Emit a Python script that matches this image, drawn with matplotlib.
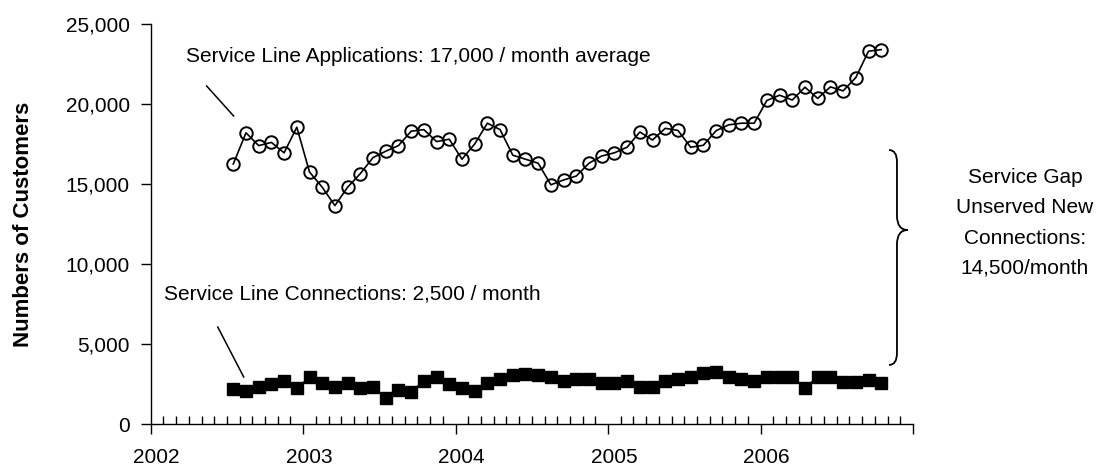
import numpy as np
import matplotlib
matplotlib.use("Agg")
import matplotlib.pyplot as plt
from matplotlib.path import Path
from matplotlib.patches import PathPatch
from matplotlib.ticker import MultipleLocator, StrMethodFormatter
import matplotlib.transforms as mtransforms

plt.rcParams["font.family"] = ["Liberation Sans", "DejaVu Sans"]

# monthly series, July 2002 .. October 2006 (plotted at mid-month)
START_YEAR, START_MONTH = 2002, 7
applications = [16250, 18200, 17400, 17600, 16950, 18550, 15750, 14800, 13650, 14800,
                15650, 16650, 17050, 17400, 18300, 18400, 17650, 17800, 16550, 17500,
                18800, 18400, 16800, 16550, 16300, 14950, 15250, 15500, 16300, 16750,
                16950, 17300, 18250, 17750, 18480, 18350, 17300, 17420, 18330, 18700,
                18800, 18800, 20220, 20550, 20250, 21050, 20350, 21070, 20820, 21650,
                23300, 23400]
connections = [2190, 2080, 2330, 2480, 2690, 2230, 2920, 2580, 2330, 2580,
               2230, 2330, 1600, 2120, 1980, 2710, 2920, 2480, 2230, 2080,
               2580, 2810, 3060, 3150, 3060, 2960, 2710, 2810, 2810, 2540,
               2540, 2690, 2330, 2330, 2710, 2810, 2960, 3170, 3270, 2960,
               2810, 2710, 2960, 2960, 2960, 2230, 2960, 2960, 2600, 2600,
               2750, 2540]
n = len(applications)
months = START_YEAR + (START_MONTH - 1 + np.arange(n) + 0.5) / 12.0

year_ticks = [2002, 2003, 2004, 2005, 2006, 2007]
year_labels = ["2002", "2003", "2004", "2005", "2006", ""]

FS = 15

fig = plt.figure(figsize=(10.96, 4.68), dpi=100)
ax = fig.add_axes([0.1375, 0.094, 0.6955, 0.8547])

ax.plot(months, applications, color="black", lw=1.2, marker="o", ms=9,
        mfc="none", mec="black", mew=1.4, zorder=3)
ax.plot(months, connections, color="black", lw=1.2, marker="s", ms=8.3,
        mfc="black", mec="black", zorder=3)

ax.set_xlim(2002, 2007)
ax.set_ylim(0, 25000)
ax.set_xticks(year_ticks)
ax.set_xticklabels(year_labels)
ax.xaxis.set_minor_locator(MultipleLocator(1 / 12))
ax.yaxis.set_major_locator(MultipleLocator(5000))
ax.yaxis.set_major_formatter(StrMethodFormatter("{x:,.0f}"))
for s in ("top", "right"):
    ax.spines[s].set_visible(False)
for s in ("left", "bottom"):
    ax.spines[s].set_linewidth(1.0)
ax.tick_params(axis="x", which="major", direction="out", length=7, width=1.0,
               labelsize=FS, pad=10)
ax.tick_params(axis="x", which="minor", direction="in", length=6, width=1.0)
ax.tick_params(axis="y", which="major", direction="out", length=7, width=1.0,
               labelsize=FS, pad=8)
# Excel-style: year labels sit slightly right of their tick
off = mtransforms.ScaledTranslation(6 / 100, 0, fig.dpi_scale_trans)
for lab in ax.get_xticklabels():
    lab.set_transform(lab.get_transform() + off)

ax.set_ylabel("Numbers of Customers", fontsize=16, fontweight="bold")
ax.yaxis.set_label_coords(-0.153, 0.5)

# annotations with leader lines
ax.text(2002.229, 23000, "Service Line Applications: 17,000 / month average",
        fontsize=FS, ha="left", va="center")
ax.plot([2002.367, 2002.544], [21125, 19250], color="black", lw=1.1)
ax.text(2002.085, 8100, "Service Line Connections: 2,500 / month",
        fontsize=FS, ha="left", va="center")
ax.plot([2002.44, 2002.61], [6060, 2940], color="black", lw=1.1)

# curly brace spanning the gap
x0, hook, tip = 2006.895, 0.052, 0.072
ytop, ybot, ymid, h1, h2 = 17125, 3690, 12125, 750, 900
verts = [(x0 - hook, ytop), (x0, ytop), (x0, ytop - h1),
         (x0, ymid + h2),
         (x0, ymid), (x0 + tip, ymid),
         (x0, ymid), (x0, ymid - h2),
         (x0, ybot + h1),
         (x0, ybot), (x0 - hook, ybot)]
codes = [Path.MOVETO, Path.CURVE3, Path.CURVE3,
         Path.LINETO,
         Path.CURVE3, Path.CURVE3,
         Path.CURVE3, Path.CURVE3,
         Path.LINETO,
         Path.CURVE3, Path.CURVE3]
ax.add_patch(PathPatch(Path(verts, codes), fill=False, lw=1.3,
                       edgecolor="black", clip_on=False))

fig.text(1025 / 1096, 0.5235, "Service Gap\nUnserved New\nConnections:\n14,500/month",
         fontsize=FS, ha="center", va="center", linespacing=1.75)

fig.savefig("out.png", dpi=100)
